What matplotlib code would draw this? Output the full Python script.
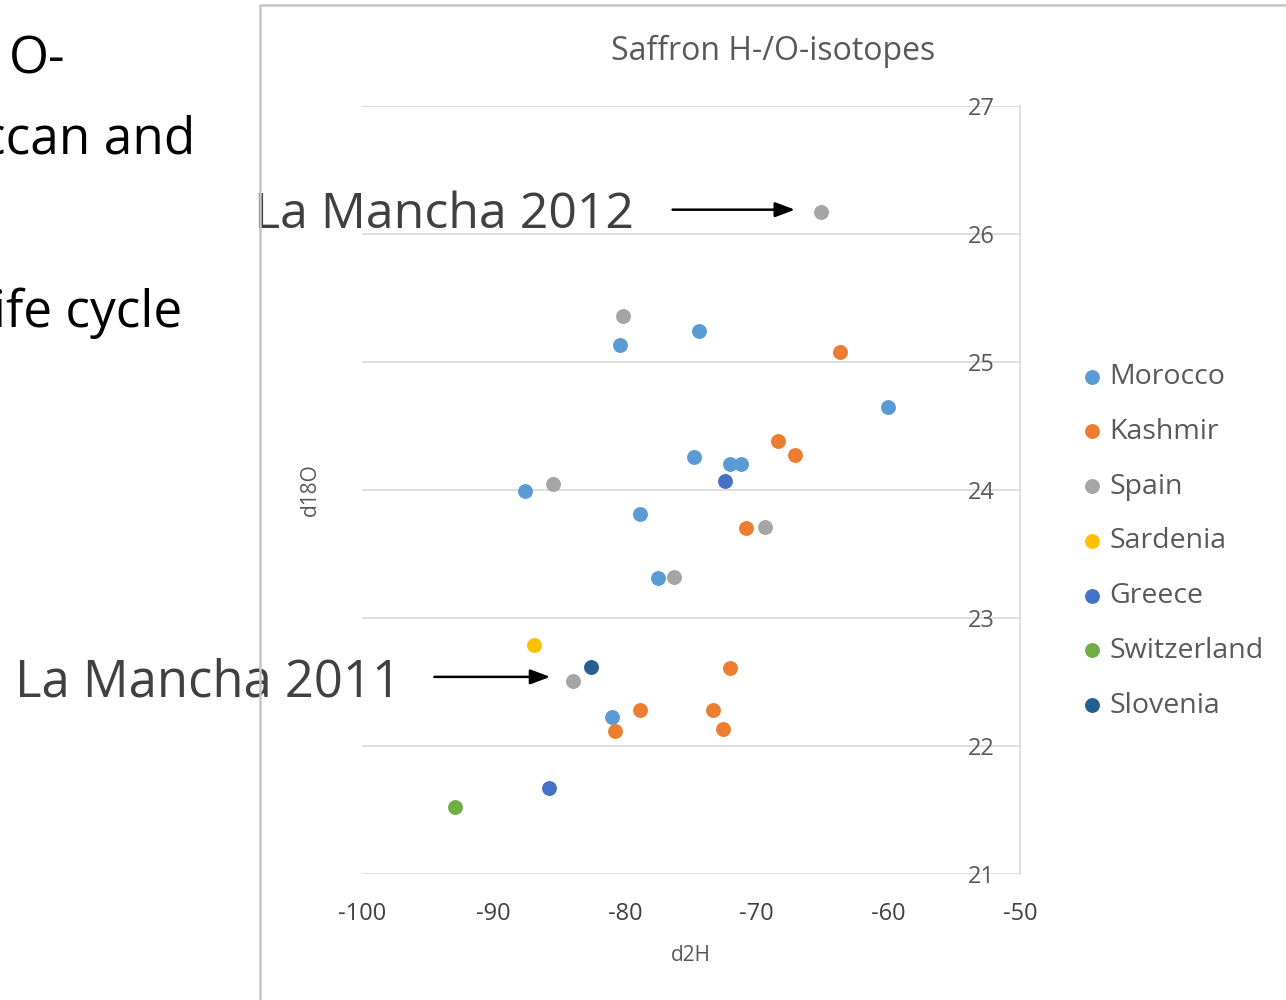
import matplotlib
matplotlib.use('Agg')
import matplotlib.pyplot as plt
from matplotlib.patches import Rectangle

plt.rcParams['font.family'] = ['Open Sans', 'DejaVu Sans']

# Isotopen-Messwerte (d2H, d18O) je Herkunft
paises = ['Morocco', 'Kashmir', 'Spain', 'Sardenia', 'Greece', 'Switzerland', 'Slovenia']
colores = ['#5B9BD5', '#ED7D31', '#A5A5A5', '#FFC000', '#4472C4', '#70AD47', '#255E91']

morocco_h = [-80.4, -74.4, -60.0, -74.8, -72.0, -71.2, -87.6, -78.9, -77.5, -81.0]
morocco_o = [25.13, 25.24, 24.65, 24.26, 24.20, 24.20, 23.99, 23.81, 23.31, 22.23]
kashmir_h = [-63.7, -68.4, -67.1, -70.8, -72.0, -78.9, -73.3, -80.8, -72.6]
kashmir_o = [25.08, 24.38, 24.27, 23.70, 22.61, 22.28, 22.28, 22.12, 22.13]
spain_h = [-65.1, -80.2, -85.5, -69.4, -76.3, -84.0]
spain_o = [26.17, 25.36, 24.05, 23.71, 23.32, 22.51]
sardenia_h = [-86.9]
sardenia_o = [22.79]
greece_h = [-72.4, -85.8]
greece_o = [24.07, 21.67]
switzerland_h = [-92.9]
switzerland_o = [21.52]
slovenia_h = [-82.6]
slovenia_o = [22.62]

datos_h = [morocco_h, kashmir_h, spain_h, sardenia_h, greece_h, switzerland_h, slovenia_h]
datos_o = [morocco_o, kashmir_o, spain_o, sardenia_o, greece_o, switzerland_o, slovenia_o]

xticks = [-100, -90, -80, -70, -60, -50]
yticks = [21, 22, 23, 24, 25, 26, 27]

fig = plt.figure(figsize=(12.86, 10), dpi=100)
ax = fig.add_axes([362 / 1286, 1 - 874 / 1000, 658 / 1286, 768 / 1000])

# Marco del grafico
fig.patches.append(Rectangle((260 / 1286, -0.1), 1.0, 0.995 + 0.1, transform=fig.transFigure,
                             fill=False, edgecolor='#C6C6C6', linewidth=1.8, zorder=0))

for pais, color, h, o in zip(paises, colores, datos_h, datos_o):
    ax.scatter(h, o, s=115, color=color, linewidths=0, label=pais, zorder=3)

ax.set_xlim(-100, -50)
ax.set_ylim(21, 27)
ax.set_xticks(xticks)
ax.set_yticks(yticks)
ax.set_xticklabels([str(t) for t in xticks], fontsize=17, color='#404040')
ax.tick_params(axis='x', length=0, pad=20)
ax.yaxis.tick_right()
ax.tick_params(axis='y', length=0, pad=-18, labelsize=17, labelcolor='#595959')
for lab in ax.get_yticklabels():
    lab.set_horizontalalignment('right')

ax.grid(axis='y', color='#D9D9D9', linewidth=1.2, zorder=0)
for lado in ['top', 'left', 'bottom']:
    ax.spines[lado].set_visible(False)
ax.spines['right'].set_color('#D9D9D9')
ax.spines['right'].set_linewidth(1.2)

ax.set_xlabel('d2H', fontsize=15, color='#595959', labelpad=14)
ax.set_ylabel('d18O', fontsize=15, color='#595959')
ax.yaxis.set_label_position('left')
ax.yaxis.set_label_coords(-0.062, 0.5)

fig.text(773 / 1286, 1 - 51 / 1000, 'Saffron H-/O-isotopes', fontsize=23, color='#595959',
         ha='center', va='center')

# Anotaciones La Mancha
ax.text(-79.3, 26.15, 'La Mancha 2012', fontsize=36, color='#404040', ha='right', va='center',
        clip_on=False)
ax.annotate('', xy=(-67.1, 26.19), xytext=(-76.4, 26.19),
            arrowprops=dict(arrowstyle='-|>,head_length=1.2,head_width=0.45', color='black', lw=1.8,
                            shrinkA=0, shrinkB=0))
ax.text(-97.05, 22.49, 'La Mancha 2011', fontsize=36.5, color='#404040', ha='right', va='center',
        clip_on=False)
ax.annotate('', xy=(-85.7, 22.54), xytext=(-94.5, 22.54),
            arrowprops=dict(arrowstyle='-|>,head_length=1.2,head_width=0.45', color='black', lw=1.8,
                            shrinkA=0, shrinkB=0))

ax.legend(loc='upper left', bbox_to_anchor=(1078 / 1286, 1 - 363 / 1000),
          bbox_transform=fig.transFigure, frameon=False, fontsize=20.5, labelcolor='#595959',
          handletextpad=0.1, handlelength=1.0, labelspacing=0.94, borderpad=0, borderaxespad=0)

# Texto de la diapositiva a la izquierda
fig.text(65 / 1286, 1 - 60 / 1000, 'O-', fontsize=37, color='black', ha='right', va='center')
fig.text(195 / 1286, 1 - 140 / 1000, 'ccan and', fontsize=37, color='black', ha='right', va='center')
fig.text(182 / 1286, 1 - 313 / 1000, 'ife cycle', fontsize=37, color='black', ha='right', va='center')

fig.savefig('out.png', dpi=100)
